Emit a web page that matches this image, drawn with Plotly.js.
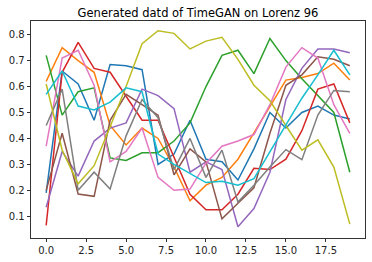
<!DOCTYPE html>
<html>
<head>
<meta charset="utf-8">
<script src="https://cdn.plot.ly/plotly-3.0.1.min.js"></script>
<style>html,body{margin:0;padding:0;background:#fff;}#chart{width:372px;height:262px;}</style>
</head>
<body>
<div id="chart"></div>
<script>
const steps = [0,1,2,3,4,5,6,7,8,9,10,11,12,13,14,15,16,17,18,19];
const s0 = [0.19, 0.66, 0.61, 0.47, 0.685, 0.68, 0.665, 0.30, 0.34, 0.47, 0.32, 0.31, 0.24, 0.36, 0.50, 0.44, 0.50, 0.525, 0.49, 0.475];
const s1 = [0.62, 0.75, 0.70, 0.655, 0.45, 0.375, 0.44, 0.40, 0.29, 0.16, 0.22, 0.25, 0.32, 0.42, 0.52, 0.625, 0.635, 0.65, 0.69, 0.625];
const s2 = [0.72, 0.49, 0.58, 0.595, 0.325, 0.315, 0.345, 0.345, 0.39, 0.46, 0.60, 0.72, 0.74, 0.65, 0.785, 0.70, 0.63, 0.565, 0.50, 0.27];
const s3 = [0.065, 0.655, 0.77, 0.67, 0.655, 0.56, 0.47, 0.47, 0.33, 0.185, 0.125, 0.125, 0.185, 0.285, 0.28, 0.32, 0.43, 0.59, 0.61, 0.46];
const s4 = [0.135, 0.35, 0.255, 0.39, 0.44, 0.46, 0.59, 0.565, 0.515, 0.27, 0.31, 0.28, 0.06, 0.13, 0.27, 0.55, 0.67, 0.745, 0.745, 0.73];
const s5 = [0.20, 0.42, 0.186, 0.177, 0.47, 0.57, 0.53, 0.49, 0.26, 0.36, 0.31, 0.09, 0.15, 0.21, 0.42, 0.605, 0.645, 0.715, 0.705, 0.68];
const s6 = [0.37, 0.71, 0.74, 0.605, 0.31, 0.35, 0.44, 0.25, 0.20, 0.205, 0.305, 0.37, 0.39, 0.415, 0.53, 0.675, 0.75, 0.71, 0.53, 0.42];
const s7 = [0.45, 0.59, 0.20, 0.27, 0.205, 0.41, 0.55, 0.48, 0.28, 0.40, 0.25, 0.355, 0.155, 0.22, 0.29, 0.357, 0.318, 0.49, 0.585, 0.58];
const s8 = [0.61, 0.355, 0.225, 0.295, 0.445, 0.60, 0.765, 0.815, 0.805, 0.745, 0.775, 0.79, 0.705, 0.605, 0.545, 0.45, 0.355, 0.395, 0.29, 0.07];
const s9 = [0.57, 0.66, 0.525, 0.51, 0.54, 0.595, 0.58, 0.34, 0.30, 0.265, 0.23, 0.235, 0.22, 0.245, 0.35, 0.455, 0.555, 0.645, 0.74, 0.645];
const series = [s0,s1,s2,s3,s4,s5,s6,s7,s8,s9];
const colors = ['#1f77b4','#ff7f0e','#2ca02c','#d62728','#9467bd','#8c564b','#e377c2','#7f7f7f','#bcbd22','#17becf'];
const xTicks = [0,2.5,5,7.5,10,12.5,15,17.5];
const yTicks = [0.1,0.2,0.3,0.4,0.5,0.6,0.7,0.8];
const titleText = 'Generated datd of TimeGAN on Lorenz 96';

const traces = series.map((s,i)=>({
  x: steps, y: s, type:'scatter', mode:'lines',
  line:{color:colors[i], width:1.5}, hoverinfo:'skip'
}));
const axisCommon = {
  showgrid:false, zeroline:false, showline:true, mirror:true,
  linecolor:'#000', linewidth:0.8, ticks:'outside', ticklen:3.5, tickwidth:0.8, tickcolor:'#000',
  tickfont:{family:'DejaVu Sans', size:10, color:'#222'}, tickformat:'.1f'
};
const layout = {
  width:372, height:262,
  margin:{l:31, r:7, t:21, b:24},
  paper_bgcolor:'#fff', plot_bgcolor:'#fff',
  showlegend:false,
  title:{text:titleText, font:{family:'DejaVu Sans', size:11.5, color:'#000'}, x:0.5, xanchor:'center', y:0.952, yanchor:'middle', xref:'paper'},
  xaxis: Object.assign({}, axisCommon, {range:[-0.95,19.95], tickvals:xTicks}),
  yaxis: Object.assign({}, axisCommon, {range:[0.0164,0.8526], tickvals:yTicks})
};
Plotly.newPlot('chart', traces, layout, {staticPlot:true, displayModeBar:false});
</script>
</body>
</html>
